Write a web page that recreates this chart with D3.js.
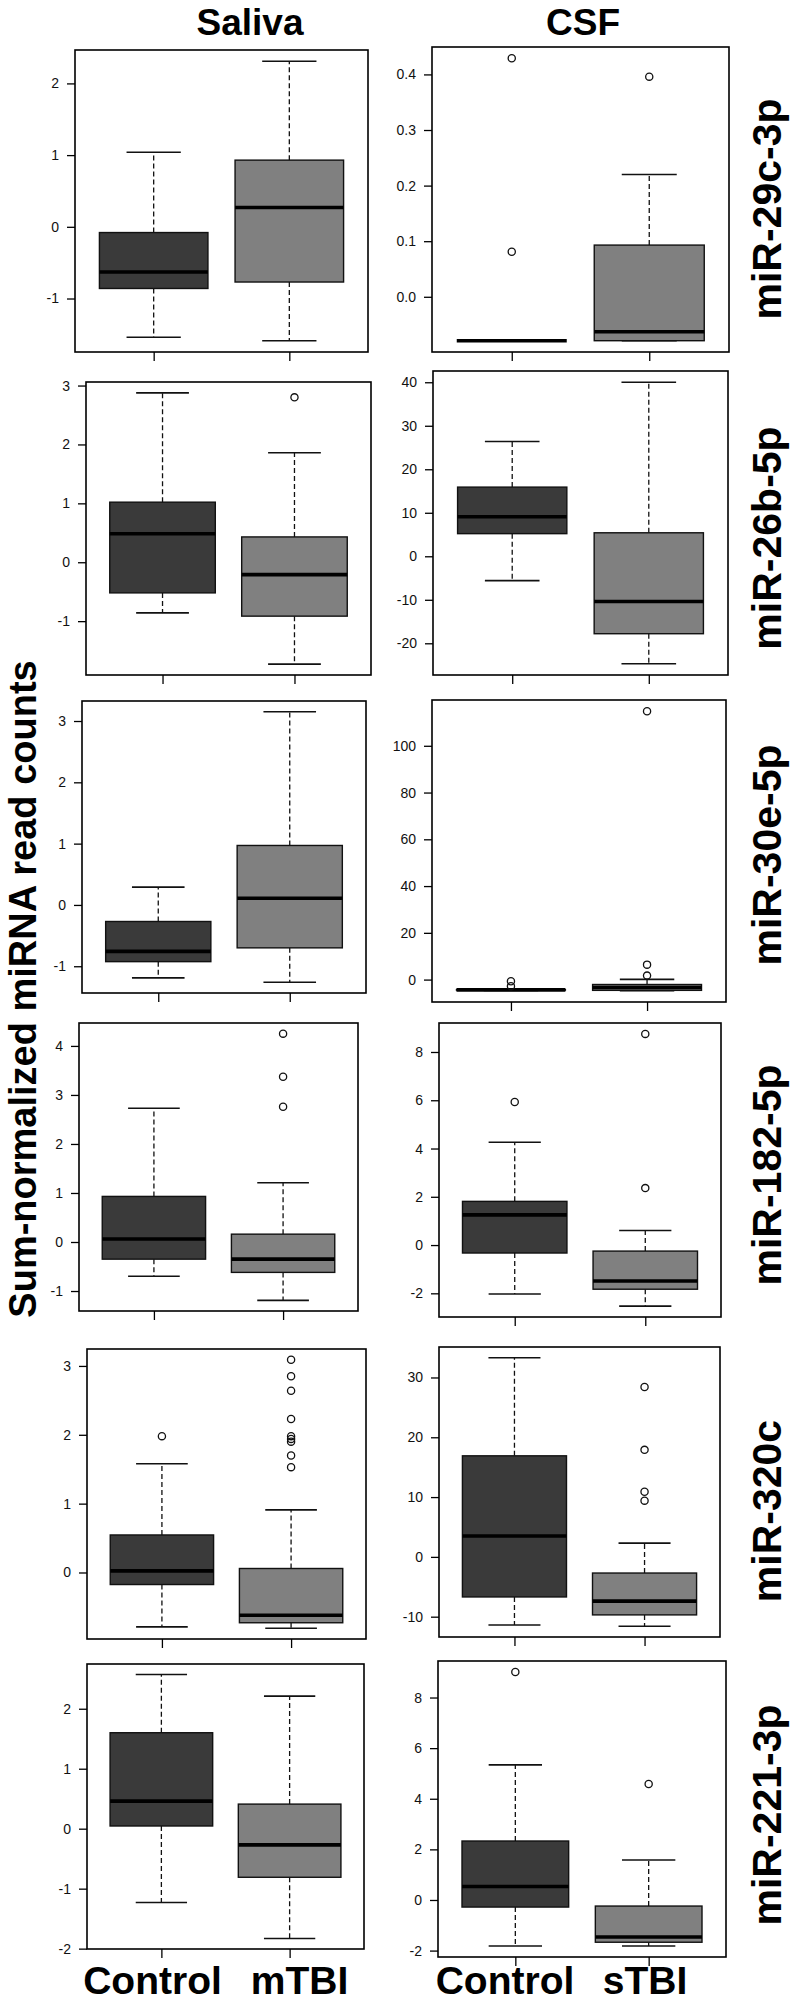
<!DOCTYPE html>
<html><head><meta charset="utf-8">
<script src="https://cdn.jsdelivr.net/npm/d3@7"></script>
<style>body{margin:0;background:#fff} svg{display:block}</style>
</head><body>
<svg id="c" width="792" height="2003"></svg>
<script>
// ---------- data ----------
const mirnas = ["miR-29c-3p", "miR-26b-5p", "miR-30e-5p", "miR-182-5p", "miR-320c", "miR-221-3p"];
const columns = ["Saliva", "CSF"];
const salivaGroups = ["Control", "mTBI"];
const csfGroups = ["Control", "sTBI"];
// five-number summaries: [lower whisker, Q1, median, Q3, upper whisker]
const salivaControl = [
  [-1.54, -0.86, -0.63, -0.08, 1.04],
  [-0.86, -0.52, 0.485, 1.02, 2.876],
  [-1.19, -0.925, -0.757, -0.27, 0.29],
  [-0.70, -0.35, 0.06, 0.93, 2.73],
  [-0.79, -0.175, 0.024, 0.545, 1.58],
  [-1.23, 0.045, 0.46, 1.60, 2.57]
];
const salivaMTBI = [
  [-1.59, -0.77, 0.27, 0.93, 2.31],
  [-1.73, -0.915, -0.21, 0.43, 1.86],
  [-1.26, -0.70, 0.11, 0.97, 3.15],
  [-1.19, -0.62, -0.35, 0.16, 1.21],
  [-0.81, -0.73, -0.62, 0.058, 0.91],
  [-1.83, -0.81, -0.27, 0.41, 2.21]
];
const csfControl = [
  [-0.079, -0.079, -0.079, -0.079, -0.079],
  [-5.6, 5.2, 9.1, 15.9, 26.4],
  [-4.6, -4.5, -4.4, -4.3, -4.2],
  [-2.03, -0.33, 1.25, 1.81, 4.26],
  [-11.4, -6.7, 3.5, 16.9, 33.3],
  [-1.82, -0.28, 0.53, 2.33, 5.34]
];
const csfSTBI = [
  [-0.079, -0.079, -0.063, 0.093, 0.22],
  [-24.7, -17.8, -10.4, 5.4, 40],
  [-4.8, -4.6, -3.4, -2.1, 0.1],
  [-2.53, -1.83, -1.49, -0.25, 0.6],
  [-11.6, -9.7, -7.4, -2.7, 2.3],
  [-1.82, -1.67, -1.46, -0.24, 1.58]
];
const salivaControlOut = [[], [], [], [], [1.98], []];
const salivaMTBIOut = [[], [2.80], [], [2.76, 3.37, 4.25],
  [1.53, 1.70, 1.90, 1.94, 1.98, 2.23, 2.64, 2.85, 3.09], []];
const csfControlOut = [[0.081, 0.429], [], [-0.7, -2.85], [5.93], [], [9.01]];
const csfSTBIOut = [[0.396], [], [1.7, 6.4, 114.8], [2.36, 8.75], [9.4, 10.9, 17.9, 28.4], [4.58]];
const salivaTicks = [[-1, 0, 1, 2], [-1, 0, 1, 2, 3], [-1, 0, 1, 2, 3], [-1, 0, 1, 2, 3, 4], [0, 1, 2, 3], [-2, -1, 0, 1, 2]];
const csfTicks = [[0, 0.1, 0.2, 0.3, 0.4], [-20, -10, 0, 10, 20, 30, 40], [0, 20, 40, 60, 80, 100],
  [-2, 0, 2, 4, 6, 8], [-10, 0, 10, 20, 30], [-2, 0, 2, 4, 6, 8]];
const salivaTickFormat = ["d", "d", "d", "d", "d", "d"];
const csfTickFormat = [".1f", "d", "d", "d", "d", "d"];
const yAxisTitle = "Sum-normalized miRNA read counts";

// ---------- layout (pixel positions) ----------
const salivaRects = [[75, 368, 50, 352], [86, 371, 382, 675], [82, 366, 701, 993],
  [79, 358, 1023, 1311], [87, 366, 1349, 1639], [87, 364, 1664, 1949]];
const csfRects = [[432, 729, 47, 352], [433, 728, 371, 675], [432, 726, 700, 1002],
  [439, 721, 1023, 1317], [439, 720, 1347, 1637], [438, 726, 1661, 1957]];
const headerX = [250, 583];
const rowLabelY = [209, 538, 855, 1175, 1511, 1815];
const bottomLabelX = [152.5, 299.5, 505, 645];
const fills = ["#3a3a3a", "#808080"];

const loc = d3.formatLocale({decimal: ".", thousands: ",", grouping: [3], currency: ["$", ""], minus: "-"});
const svg = d3.select("#c");
const boldFont = "'Liberation Sans', Arial, sans-serif";

function drawPanel(rect, groups, stats, outs, ticks, fmt) {
  const [x0, x1, y0, y1] = rect;
  const g = svg.append("g");
  const all = stats.flat().concat(outs.flat());
  const [mn, mx] = d3.extent(all);
  const pad = (mx - mn) * 0.04;
  const y = d3.scaleLinear().domain([mn - pad, mx + pad]).range([y1, y0]);
  const x = d3.scalePoint().domain(groups).range([x0, x1]).padding(0.58);
  const bw = x.step() * 0.8;
  const cw = bw / 2;

  groups.forEach((grp, i) => {
    const [lo, q1, med, q3, hi] = stats[i];
    const cx = x(grp);
    const bg = g.append("g");
    bg.selectAll("line.wh").data([[q3, hi], [q1, lo]]).join("line")
      .attr("x1", cx).attr("x2", cx)
      .attr("y1", d => y(d[0])).attr("y2", d => y(d[1]))
      .attr("stroke", "#111").attr("stroke-width", 1.3).attr("stroke-dasharray", "5,3");
    bg.selectAll("line.cap").data([hi, lo]).join("line")
      .attr("x1", cx - cw / 2).attr("x2", cx + cw / 2)
      .attr("y1", d => y(d)).attr("y2", d => y(d))
      .attr("stroke", "#111").attr("stroke-width", 1.6);
    bg.append("rect")
      .attr("x", cx - bw / 2).attr("width", bw)
      .attr("y", y(q3)).attr("height", Math.max(0, y(q1) - y(q3)))
      .attr("fill", fills[i]).attr("stroke", "#111").attr("stroke-width", 1.4);
    bg.append("line")
      .attr("x1", cx - bw / 2).attr("x2", cx + bw / 2)
      .attr("y1", y(med)).attr("y2", y(med))
      .attr("stroke", "#000").attr("stroke-width", 3.6);
    bg.selectAll("circle").data(outs[i]).join("circle")
      .attr("cx", cx).attr("cy", d => y(d)).attr("r", 3.6)
      .attr("fill", "none").attr("stroke", "#111").attr("stroke-width", 1.3);
  });

  g.append("rect").attr("x", x0).attr("y", y0).attr("width", x1 - x0).attr("height", y1 - y0)
    .attr("fill", "none").attr("stroke", "#000").attr("stroke-width", 1.6);

  const ya = g.append("g").attr("transform", `translate(${x0},0)`)
    .call(d3.axisLeft(y).tickValues(ticks).tickSize(8).tickPadding(8).tickFormat(loc.format(fmt)));
  ya.select(".domain").remove();
  ya.selectAll(".tick line").attr("stroke", "#000").attr("stroke-width", 1.3);
  ya.selectAll(".tick text").attr("font-family", "'Liberation Sans', Arial, sans-serif")
    .attr("font-size", 14).attr("fill", "#111");

  const xa = g.append("g").attr("transform", `translate(0,${y1})`)
    .call(d3.axisBottom(x).tickSize(9).tickFormat(""));
  xa.select(".domain").remove();
  xa.selectAll(".tick line").attr("stroke", "#000").attr("stroke-width", 1.3);
}

mirnas.forEach((m, r) => {
  drawPanel(salivaRects[r], salivaGroups, [salivaControl[r], salivaMTBI[r]],
    [salivaControlOut[r], salivaMTBIOut[r]], salivaTicks[r], salivaTickFormat[r]);
  drawPanel(csfRects[r], csfGroups, [csfControl[r], csfSTBI[r]],
    [csfControlOut[r], csfSTBIOut[r]], csfTicks[r], csfTickFormat[r]);
  svg.append("text")
    .attr("transform", `translate(781,${rowLabelY[r]}) rotate(-90)`)
    .attr("text-anchor", "middle")
    .attr("font-family", boldFont).attr("font-weight", "bold").attr("font-size", 41)
    .text(m);
});

svg.selectAll("text.hdr").data(columns).join("text")
  .attr("class", "hdr")
  .attr("x", (d, i) => headerX[i]).attr("y", 35)
  .attr("text-anchor", "middle")
  .attr("font-family", boldFont).attr("font-weight", "bold").attr("font-size", 37)
  .text(d => d);

svg.selectAll("text.grp").data(salivaGroups.concat(csfGroups)).join("text")
  .attr("class", "grp")
  .attr("x", (d, i) => bottomLabelX[i]).attr("y", 1994)
  .attr("text-anchor", "middle")
  .attr("font-family", boldFont).attr("font-weight", "bold").attr("font-size", 39)
  .text(d => d);

svg.append("text")
  .attr("transform", "translate(36,989) rotate(-90)")
  .attr("text-anchor", "middle")
  .attr("font-family", boldFont).attr("font-weight", "bold").attr("font-size", 38)
  .text(yAxisTitle);
</script>
</body></html>
